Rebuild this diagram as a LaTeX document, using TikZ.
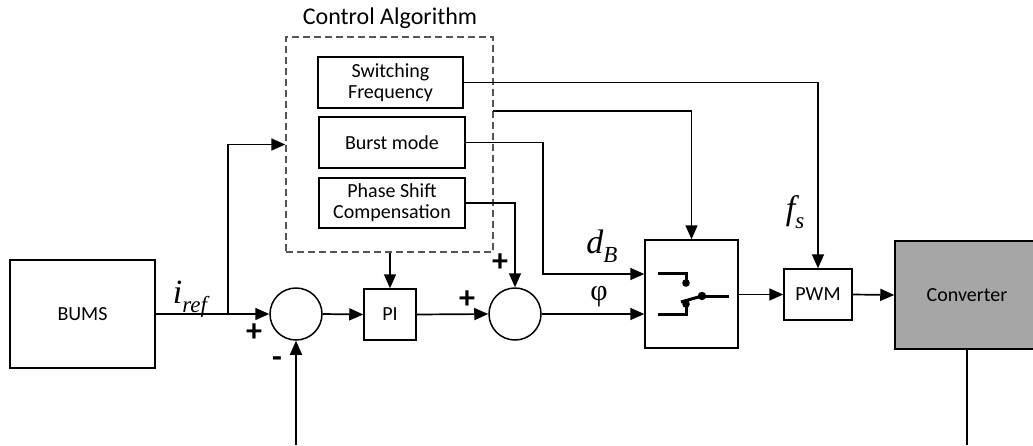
\documentclass[tikz,border=0pt]{standalone}
\usepackage{fontspec}
\setmainfont{Carlito}
\newfontfamily\tms{Liberation Serif}
\usetikzlibrary{arrows.meta,calc}
\definecolor{convgray}{HTML}{A6A6A6}
\definecolor{dashgray}{HTML}{555555}
\tikzset{
  blk/.style={draw, line width=1.5pt, fill=white, inner sep=0pt, font=\fontsize{20}{23}\selectfont, align=center},
  sumnode/.style={draw, circle, line width=1.5pt, minimum size=52pt, inner sep=0pt},
  conn/.style={line width=1.7pt},
  arr/.style={conn, -{Triangle[length=14pt,width=12pt]}},
  sw/.style={line width=3pt},
  sign/.style={font=\fontsize{32}{32}\selectfont\bfseries, inner sep=0pt},
  mlabel/.style={inner sep=0pt, font=\fontsize{34}{34}\selectfont\tms\itshape},
}
\newcommand{\subtxt}[1]{\raisebox{-0.28em}{\fontsize{23}{23}\selectfont #1}}
\begin{document}
\begin{tikzpicture}[x=1pt,y=-1pt]
\useasboundingbox (0,0) rectangle (1033,445);

% control algorithm group
\node[draw=dashgray, dash pattern=on 7pt off 4pt, line width=1.4pt, minimum width=207pt, minimum height=215pt, inner sep=0pt] (ca) at (389.5,144.5) {};
\node[font=\fontsize{24}{24}\selectfont, inner sep=0pt] (title) at (390,18) {Control Algorithm};
\node[blk, minimum width=145pt, minimum height=51pt] (sf) at (390.5,82.5) {Switching\\[-2pt]Frequency};
\node[blk, minimum width=146pt, minimum height=51pt] (bm) at (392,142.5) {Burst mode};
\node[blk, minimum width=146pt, minimum height=50pt] (ps) at (392,203) {Phase Shift\\[-2pt]Compensation};

% main blocks
\node[blk, minimum width=145pt, minimum height=108pt] (bums) at (82.5,314) {BUMS};
\node[sumnode] (s1) at (296,314) {};
\node[blk, minimum width=52pt, minimum height=51pt] (pi) at (390,314.5) {PI};
\node[sumnode] (s2) at (515,314) {};
\node[draw, line width=1.5pt, minimum width=93pt, minimum height=108pt, inner sep=0pt] (swb) at (691.5,294) {};
\node[blk, minimum width=68pt, minimum height=51pt] (pwm) at (818,294.5) {PWM};
\node[blk, fill=convgray, minimum width=144pt, minimum height=108pt] (conv) at (967,295) {Converter};

% switch symbol
\draw[sw] (658,273) -- (686,273) -- (686,283);
\draw[sw] (658,314) -- (686,314) -- (686,304);
\fill (686,283) circle (3.8pt);
\fill (686,304) circle (3.8pt);
\fill (702,296) circle (4.2pt);
\draw[sw] (702,296) -- (729,296);
\draw[sw] (702,296) -- (681,302);

% coordinates
\coordinate (br) at (228,314);
\coordinate (db) at (543,274);
\coordinate (fb1) at (296,445);
\coordinate (fb2) at (967,445);
\coordinate (mid) at (493,111);

% connectors
\draw[arr] (bums.east) -- (s1.west);
\draw[arr] (br) |- (ca.west);
\draw[arr] (s1.east) -- (pi.west);
\draw[arr] (pi.west -| pi.east) -- (s2.west);
\draw[arr] (ca.south -| pi.north) -- (pi.north);
\draw[arr] (ps.east) -| (s2.north);
\draw[arr] (bm.east) -| (db) -- (db -| swb.west);
\draw[arr] (mid) -| (swb.north);
\draw[arr] (sf.east) -| (pwm.north);
\draw[arr] (s2.east) -- (s2.east -| swb.west);
\draw[arr] (swb.east |- pwm.west) -- (pwm.west);
\draw[arr] (pwm.east) -- (conv.west);
\draw[conn] (conv.south) -- (fb2);
\draw[arr] (fb1) -- (s1.south);

% labels
\node[mlabel, anchor=base] (iref) at (190,303) {i\subtxt{ref}};
\node[mlabel, anchor=base] (dB) at (602,253) {d\subtxt{B}};
\node[mlabel, anchor=base] (fs) at (795,219) {f\subtxt{s}};
\node[inner sep=0pt, font=\fontsize{30}{30}\selectfont\tms] (phi) at (599,297) {φ};
\node[sign] (p1) at (254,333) {+};
\node[sign] (m1) at (277,362) {-};
\node[sign] (p2) at (467,300) {+};
\node[sign] (p3) at (500,263) {+};
\end{tikzpicture}
\end{document}
